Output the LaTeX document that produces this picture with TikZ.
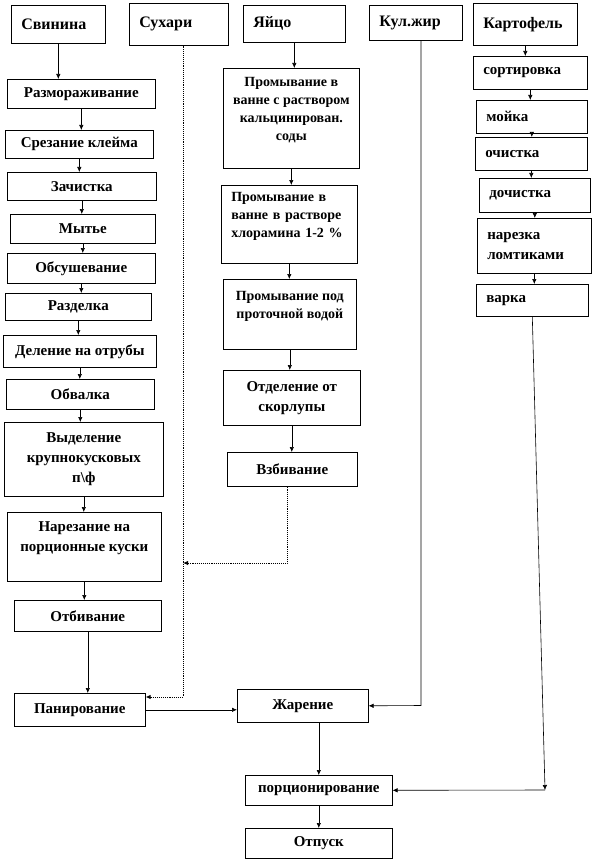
\documentclass[tikz,border=0pt]{standalone}
\usepackage{fontspec}
\setmainfont{Liberation Serif}
\usetikzlibrary{arrows.meta}

\begin{document}
\begin{tikzpicture}[>={Latex[length=5pt,width=4.5pt]}, x=1pt, y=-1pt,
    box/.style={draw, line width=0.6pt, anchor=north west, inner sep=0pt,
        align=center, font=\bfseries\fontsize{15}{20}\selectfont},
    lbox/.style={box, align=left, inner xsep=10pt},
    topbox/.style={lbox, font=\bfseries\fontsize{16}{20}\selectfont},
    eggbox/.style={box, font=\bfseries\fontsize{14}{18}\selectfont},
    link/.style={line width=0.6pt, ->},
    dotlink/.style={line width=0.9pt, densely dotted, ->}]
    \useasboundingbox (0,0) rectangle (593,861);

    % raw materials
    \node[topbox, text width=74pt, minimum height=38pt] (svinina) at (11,5) {Свинина};
    \node[topbox, text width=79pt, minimum height=42pt] (sukhari) at (129,3) {Сухари};
    \node[topbox, text width=82pt, minimum height=37pt] (yaico) at (243,5) {Яйцо};
    \node[topbox, text width=73pt, minimum height=35pt] (kulzhir) at (369,5) {Кул.жир};
    \node[topbox, text width=84pt, minimum height=42pt] (kartofel) at (473,3) {Картофель};

    % pork
    \node[box, minimum width=148pt, minimum height=29pt] (razmor) at (7,79) {Размораживание};
    \node[box, minimum width=148pt, minimum height=28pt] (srez) at (5,130) {Срезание клейма};
    \node[box, minimum width=149pt, minimum height=28pt] (zachist) at (7,172) {Зачистка};
    \node[box, minimum width=145pt, minimum height=29pt] (myte) at (10,214) {Мытье};
    \node[box, minimum width=148pt, minimum height=30pt] (obsush) at (7,253) {Обсушевание};
    \node[box, minimum width=146pt, minimum height=27pt] (razdelka) at (5,293) {Разделка};
    \node[box, minimum width=153pt, minimum height=32pt] (delenie) at (3,335) {Деление на отрубы};
    \node[box, minimum width=148pt, minimum height=30pt] (obvalka) at (6,379) {Обвалка};
    \node[box, minimum width=159pt, minimum height=74pt] (vydel) at (4,422)
        {Выделение\\крупнокусковых\\п\textbackslash ф};
    \node[box, minimum width=154pt, minimum height=69pt] (narez) at (7,512)
        {Нарезание на\\порционные куски\\~};
    \node[box, minimum width=147pt, minimum height=31pt] (otbiv) at (14,600) {Отбивание};
    \node[box, minimum width=131pt, minimum height=33pt] (panir) at (14,693) {Панирование};

    % eggs
    \node[eggbox, minimum width=136pt, minimum height=100pt] (prom1) at (223,68)
        {Промывание в\\ванне с раствором\\кальцинирован.\\соды\\~};
    \node[eggbox, align=left, inner xsep=10pt, text width=116pt, minimum height=78pt] (prom2) at (221,185)
        {Промывание в\\ванне в растворе\\хлорамина 1-2 \%\\~};
    \node[eggbox, minimum width=133pt, minimum height=70pt] (prom3) at (223,279)
        {Промывание под\\проточной водой\\~};
    \node[box, minimum width=137pt, minimum height=55pt] (otdel) at (223,370)
        {Отделение от\\скорлупы};
    \node[box, minimum width=130pt, minimum height=34pt] (vzbiv) at (227,452) {Взбивание};

    % potatoes
    \node[lbox, text width=94pt, minimum height=33pt] (sort) at (473,56) {сортировка};
    \node[lbox, text width=91pt, minimum height=33pt] (moika) at (476,100) {мойка};
    \node[lbox, text width=92pt, minimum height=33pt] (ochist) at (475,137) {очистка};
    \node[lbox, text width=91pt, minimum height=34pt] (dochist) at (479,178) {дочистка};
    \node[lbox, text width=94pt, minimum height=55pt] (narezka) at (477,218) {нарезка\\ломтиками};
    \node[lbox, text width=92pt, minimum height=32pt] (varka) at (476,284) {варка};

    % final steps
    \node[box, minimum width=131pt, minimum height=33pt] (zharen) at (237,689) {Жарение};
    \node[box, minimum width=147pt, minimum height=30pt] (porc) at (245,775) {порционирование};
    \node[box, minimum width=147pt, minimum height=30pt] (otpusk) at (245,828) {Отпуск};

    % turning points
    \coordinate (sukhturn) at (183,697);
    \coordinate (vzturn) at (287,563);
    \coordinate (kulturn) at (421,705.5);
    \coordinate (varkaturn) at (545,790);

    % pork chain
    \draw[link] (svinina.south) -- (svinina.south |- razmor.north);
    \draw[link] (razmor.south) -- (razmor.south |- srez.north);
    \draw[link] (srez.south) -- (srez.south |- zachist.north);
    \draw[link] (zachist.south) -- (zachist.south |- myte.north);
    \draw[link] (myte.south) -- (myte.south |- obsush.north);
    \draw[link] (obsush.south) -- (obsush.south |- razdelka.north);
    \draw[link] (razdelka.south) -- (razdelka.south |- delenie.north);
    \draw[link] (delenie.south) -- (delenie.south |- obvalka.north);
    \draw[link] (obvalka.south) -- (obvalka.south |- vydel.north);
    \draw[link] (vydel.south) -- (vydel.south |- narez.north);
    \draw[link] (narez.south) -- (narez.south |- otbiv.north);
    \draw[link] (otbiv.south) -- (otbiv.south |- panir.north);

    % egg chain
    \draw[link] (yaico.south) -- (yaico.south |- prom1.north);
    \draw[link] (prom1.south) -- (prom1.south |- prom2.north);
    \draw[link] (prom2.south) -- (prom2.south |- prom3.north);
    \draw[link] (prom3.south) -- (prom3.south |- otdel.north);
    \draw[link] (otdel.south) -- (otdel.south |- vzbiv.north);
    \draw[dotlink] (vzbiv.south -| vzturn) -- (vzturn) -- (vzturn -| sukhturn);

    % potato chain
    \draw[link] (kartofel.south) -- (kartofel.south |- sort.north);
    \draw[link] (sort.south) -- (sort.south |- moika.north);
    \draw[link] (moika.south) -- (moika.south |- ochist.north);
    \draw[link] (ochist.south) -- (ochist.south |- dochist.north);
    \draw[link] (dochist.south) -- (dochist.south |- narezka.north);
    \draw[link] (narezka.south) -- (narezka.south |- varka.north);
    \draw[link] (varka.south) -- (varkaturn);
    \draw[link] (varkaturn) -- (porc.east);

    % crumbs and fat
    \draw[dotlink] (sukhari.south -| sukhturn) -- (sukhturn) -- (sukhturn -| panir.east);
    \draw[link] (kulzhir.south -| kulturn) -- (kulturn) -- (zharen.east);

    % frying and serving
    \draw[link] (panir.east) -- (panir.east -| zharen.west);
    \draw[link] (zharen.south -| porc.north) -- (porc.north);
    \draw[link] (porc.south) -- (otpusk.north);
\end{tikzpicture}
\end{document}
